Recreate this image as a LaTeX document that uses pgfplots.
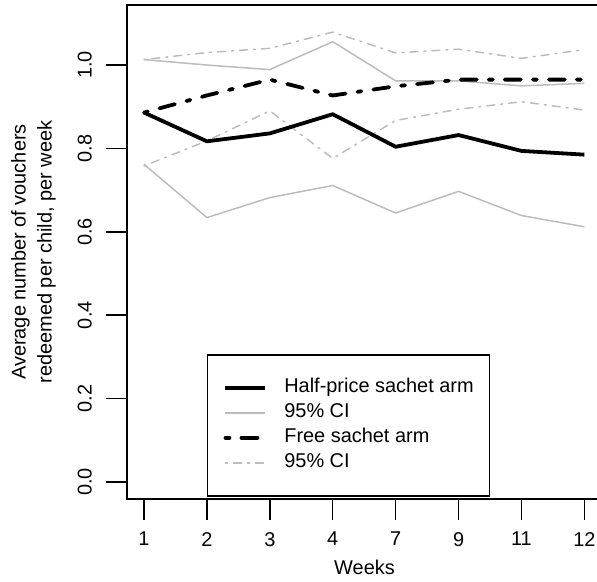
\documentclass[border=0pt]{standalone}
\usepackage{fontspec}
\setmainfont{Liberation Sans}
\usepackage{pgfplots}
\usepackage{pgfplotstable}
\pgfplotsset{compat=1.18}
\definecolor{cigray}{RGB}{188,188,188}

% week index, half-price arm (mean, CI), free arm (mean, CI)
\pgfplotstableread{
idx half  halflo halfhi free  freelo freehi
1   0.886 0.762  1.013  0.886 0.758  1.013
2   0.817 0.634  1.000  0.927 0.818  1.030
3   0.836 0.682  0.989  0.965 0.890  1.040
4   0.882 0.711  1.056  0.927 0.776  1.079
5   0.804 0.645  0.962  0.949 0.867  1.029
6   0.832 0.697  0.962  0.965 0.894  1.038
7   0.794 0.639  0.950  0.965 0.912  1.016
8   0.785 0.612  0.956  0.965 0.892  1.037
}\weeks

\tikzset{
  halfci/.style={cigray, line width=1.5bp, line join=round},
  freeci/.style={cigray, line width=1.5bp, line cap=round, line join=round,
    dash pattern=on 2bp off 6bp on 8bp off 6bp},
  halfmean/.style={black, line width=3.8bp, line join=round},
  freemean/.style={black, line width=3.8bp, line cap=round, line join=round,
    dash pattern=on 4bp off 12bp on 16bp off 12bp},
}

\begin{document}
\begin{tikzpicture}
\path[use as bounding box] (0bp,0bp) rectangle (597bp,582bp);
\begin{axis}[
  at={(127bp,83bp)}, anchor=south west,
  scale only axis, width=475bp, height=494bp,
  xmin=0.73, xmax=8.28, ymin=-0.041, ymax=1.144,
  xtick={1,...,8}, xticklabels={1,2,3,4,7,9,11,12},
  ytick={0,0.2,0.4,0.6,0.8,1.0},
  tick pos=left, tick align=outside,
  major tick length=21bp,
  every tick/.style={black, line width=1.5bp},
  axis line style={line width=1.5bp},
  /pgf/number format/assume math mode=true,
  tick label style={font=\fontsize{20}{24}\selectfont},
  xticklabel style={inner sep=0pt, anchor=north, yshift=-12bp},
  yticklabel style={/pgf/number format/fixed, /pgf/number format/fixed zerofill,
    /pgf/number format/precision=1,
    inner sep=0pt, xshift=-14bp, rotate=90, anchor=south},
  xlabel={Weeks},
  ylabel={Average number of vouchers\\redeemed per child, per week},
  xlabel style={at={(axis description cs:0.5,-0.139)}, anchor=center, inner sep=0pt,
    font=\fontsize{20}{24}\selectfont},
  ylabel style={at={(axis description cs:-0.197,0.5)}, anchor=center, rotate=0,
    align=center, font=\fontsize{20}{26}\selectfont, inner sep=0pt},
  legend style={at={(axis description cs:0.168,0.2935)}, anchor=north west,
    draw=black, line width=1.5bp, fill=white,
    font=\fontsize{20}{24}\selectfont,
    inner xsep=16bp, inner ysep=23bp, row sep=5bp, column sep=17bp,
    nodes={inner sep=0pt, text height=15bp, text depth=5bp}},
  legend cell align=left,
  legend image code/.code={\draw[#1] (0bp,0bp) -- (40bp,0bp);},
]
\addplot[halfci, forget plot] table[x=idx, y=halflo] {\weeks};
\addplot[halfci, forget plot] table[x=idx, y=halfhi] {\weeks};
\addplot[freeci, forget plot] table[x=idx, y=freelo] {\weeks};
\addplot[freeci, forget plot] table[x=idx, y=freehi] {\weeks};
\addplot[halfmean, forget plot] table[x=idx, y=half] {\weeks};
\addplot[freemean, forget plot] table[x=idx, y=free] {\weeks};
\addlegendimage{halfmean}
\addlegendimage{halfci}
\addlegendimage{freemean}
\addlegendimage{freeci}
\legend{Half-price sachet arm, 95\% CI, Free sachet arm, 95\% CI}
\end{axis}
\end{tikzpicture}
\end{document}
